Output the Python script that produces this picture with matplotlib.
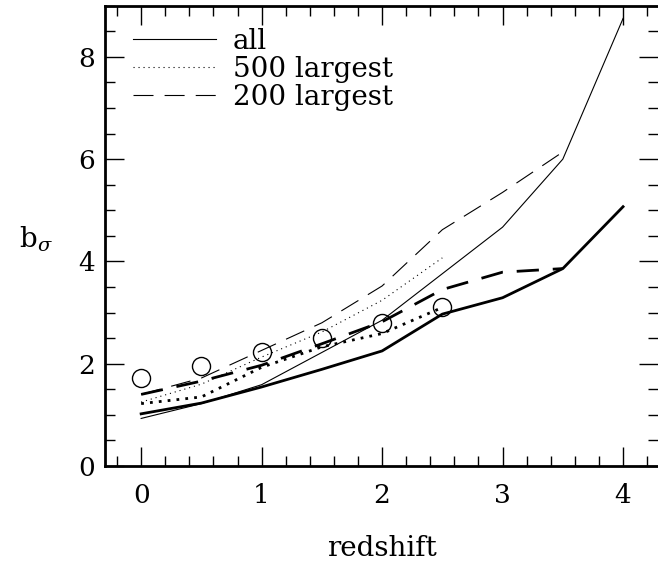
import matplotlib
matplotlib.use("Agg")
import matplotlib.pyplot as plt
from matplotlib.ticker import MultipleLocator

plt.rcParams['font.family'] = ['DejaVu Serif']
plt.rcParams['mathtext.fontset'] = 'dejavuserif'

# redshift grid
z_all = [0, 0.5, 1, 1.5, 2, 2.5, 3, 3.5, 4]
z_500 = [0, 0.5, 1, 1.5, 2, 2.5]
z_200 = [0, 0.5, 1, 1.5, 2, 2.5, 3, 3.5]
z_obs = [0, 0.5, 1, 1.5, 2, 2.5]

# thin lines (legend series)
b_all_thin = [0.93, 1.22, 1.59, 2.22, 2.85, 3.76, 4.67, 6.0, 8.75]
b_500_thin = [1.25, 1.6, 2.13, 2.62, 3.24, 4.07]
b_200_thin = [1.40, 1.72, 2.26, 2.80, 3.52, 4.62, 5.35, 6.14]

# thick lines
b_all_thick = [1.02, 1.23, 1.545, 1.89, 2.25, 2.97, 3.29, 3.86, 5.07]
b_500_thick = [1.22, 1.35, 1.93, 2.33, 2.59, 3.10]
b_200_thick = [1.40, 1.66, 1.97, 2.39, 2.82, 3.45, 3.79, 3.86]

# circles
b_obs = [1.72, 1.96, 2.23, 2.51, 2.80, 3.10]

labels = ['all', '500 largest', '200 largest']

fig = plt.figure(figsize=(6.58, 5.63), dpi=100)
ax = fig.add_axes([105/658, 1-466/563, 1-105/658, (466-5.7)/563])

thin = 0.8
thick = 2.0
ax.plot(z_all, b_all_thin, color='black', lw=thin, ls='-', label=labels[0])
ax.plot(z_500, b_500_thin, color='black', lw=thin, ls=(0, (1, 3.5)), label=labels[1])
ax.plot(z_200, b_200_thin, color='black', lw=thin, ls=(0, (18, 10)), label=labels[2])

ax.plot(z_all, b_all_thick, color='black', lw=thick, ls='-')
ax.plot(z_500, b_500_thick, color='black', lw=thick, ls=(0, (1, 2.2)))
ax.plot(z_200, b_200_thick, color='black', lw=thick, ls=(0, (8, 5)))

ax.plot(z_obs, b_obs, ls='none', marker='o', ms=13, mfc='none', mec='black', mew=1.0)

ax.set_xlim(-0.3, 4.29)
ax.set_ylim(0, 9)
ax.xaxis.set_major_locator(MultipleLocator(1))
ax.xaxis.set_minor_locator(MultipleLocator(0.2))
ax.yaxis.set_major_locator(MultipleLocator(2))
ax.yaxis.set_minor_locator(MultipleLocator(0.5))
ax.tick_params(which='both', direction='in', top=True, right=True, width=1.0,
               labelsize=19)
ax.tick_params(which='major', length=14)
ax.tick_params(which='minor', length=7)
ax.tick_params(axis='x', which='major', pad=12)
ax.tick_params(axis='y', which='major', pad=7)
for s in ['left', 'bottom', 'top']:
    ax.spines[s].set_linewidth(2)
ax.spines['right'].set_visible(False)

ax.set_xlabel('redshift', fontsize=20, labelpad=20)
ax.set_ylabel(r'b$_\sigma$', fontsize=20, rotation=0)
ax.yaxis.set_label_coords(-0.125, 0.46)

leg = ax.legend(loc='upper left', bbox_to_anchor=(28/553, 1-22/460), frameon=False,
                fontsize=20, handlelength=3.0, handletextpad=0.6,
                labelspacing=0.04, borderpad=0, borderaxespad=0)

fig.savefig('out.png', dpi=100)
